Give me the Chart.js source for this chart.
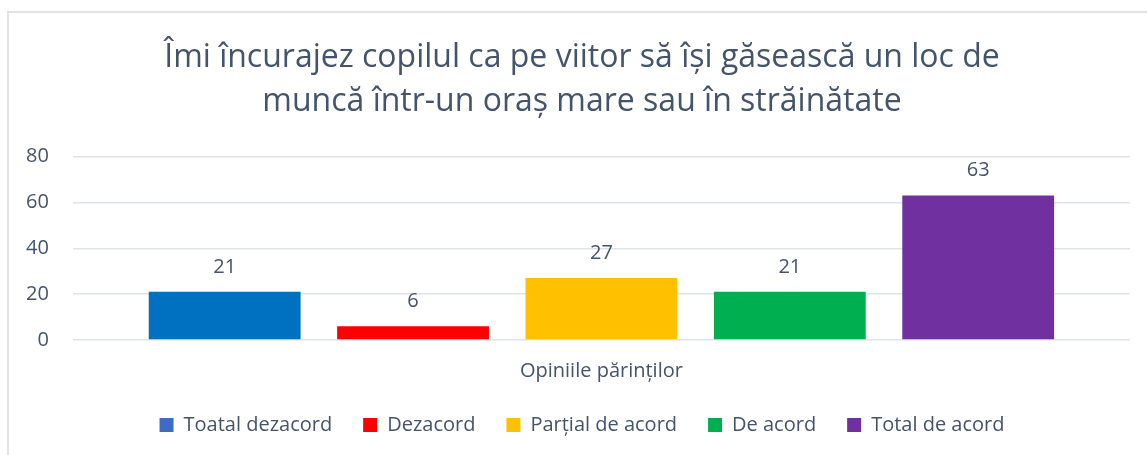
<!DOCTYPE html>
<html lang="ro">
<head>
<meta charset="utf-8">
<script src="https://cdn.jsdelivr.net/npm/chart.js@4/dist/chart.umd.min.js"></script>
<style>
  html, body { margin:0; padding:0; background:#fff; overflow:hidden; }
  #wrap { position:relative; width:1147px; height:455px; }
  #frame { position:absolute; left:7px; top:11px; width:1200px; height:500px; border:2px solid #dfe3e8; box-sizing:border-box; }
  #opinii { position:absolute; left:0; top:0; }
</style>
</head>
<body>
<div id="wrap">
  <div id="frame"></div>
  <canvas id="opinii" width="1147" height="455"></canvas>
</div>
<script>
// sondaj părinți — o singură categorie, câte un set de date pe răspuns
const categories = ['Opiniile părinților'];
const answers = ['Toatal dezacord', 'Dezacord', 'Parțial de acord', 'De acord', 'Total de acord'];
const counts = [21, 6, 27, 21, 63];
const colors = ['#0070c0', '#ff0000', '#ffc000', '#00b050', '#7030a0'];
const legendColors = ['#3d6cc3', '#ff0000', '#ffc000', '#00b050', '#7030a0'];
const yTicks = [0, 20, 40, 60, 80];

const TEXT = '#44546a';
const FONT = "'Open Sans', 'Noto Sans', sans-serif";

// etichete cu valoarea deasupra fiecărei coloane
const valueLabels = {
  id:'valueLabels',
  afterDatasetsDraw(chart){
    const ctx = chart.ctx;
    ctx.save();
    ctx.font = `20px ${FONT}`;
    ctx.fillStyle = TEXT;
    ctx.textAlign = 'center';
    ctx.textBaseline = 'middle';
    chart.data.datasets.forEach((ds, i) => {
      chart.getDatasetMeta(i).data.forEach((bar, j) => {
        ctx.fillText(String(ds.data[j]), bar.x, bar.y - 25);
      });
    });
    ctx.restore();
  }
};

// titlul și legenda centrate pe tot cadrul, nu doar pe zona vizibilă
const SHIFT = 16;
const centerBlocks = {
  id:'centerBlocks',
  afterLayout(chart){
    [chart.titleBlock, chart.legend].forEach(box => {
      if (!box) return;
      box.left += SHIFT;
      box.right += SHIFT;
    });
  }
};

new Chart(document.getElementById('opinii'), {
  type:'bar',
  data:{
    labels: categories,
    datasets: answers.map((name, i) => ({
      label: name,
      data: [counts[i]],
      backgroundColor: colors[i],
      borderWidth: 0,
      categoryPercentage: 0.891,
      barPercentage: 0.806
    }))
  },
  options:{
    responsive:false,
    animation:false,
    layout:{ padding:{ top:18, right:17, bottom:10, left:2 } },
    plugins:{
      title:{
        display:true,
        text:['Îmi încurajez copilul ca pe viitor să își găsească un loc de', 'muncă într-un oraș mare sau în străinătate'],
        color:TEXT,
        font:{ family:FONT, size:32, weight:'normal', lineHeight:1.4 },
        padding:{ top:17, bottom:32 }
      },
      legend:{
        display:true,
        position:'bottom',
        labels:{
          color:TEXT,
          font:{ family:FONT, size:20 },
          boxWidth:14,
          boxHeight:14,
          padding:31,
          generateLabels:(chart) => chart.data.datasets.map((ds, i) => ({
            text: ds.label,
            fillStyle: legendColors[i],
            strokeStyle: legendColors[i],
            lineWidth: 0,
            hidden: false,
            datasetIndex: i,
            fontColor: TEXT
          }))
        }
      },
      tooltip:{ enabled:false }
    },
    scales:{
      x:{
        grid:{ display:false },
        border:{ display:false },
        ticks:{ color:TEXT, font:{ family:FONT, size:20 }, padding:11 },
        afterFit:(axis) => { axis.height -= 10; }
      },
      y:{
        min:0,
        max:80,
        afterBuildTicks:(axis) => { axis.ticks = yTicks.map(v => ({ value:v })); },
        grid:{ color:'#dfe3e8', lineWidth:1.5, drawTicks:false },
        border:{ display:false },
        ticks:{ color:TEXT, font:{ family:FONT, size:20 }, padding:24 }
      }
    }
  },
  plugins:[valueLabels, centerBlocks]
});
</script>
</body>
</html>
